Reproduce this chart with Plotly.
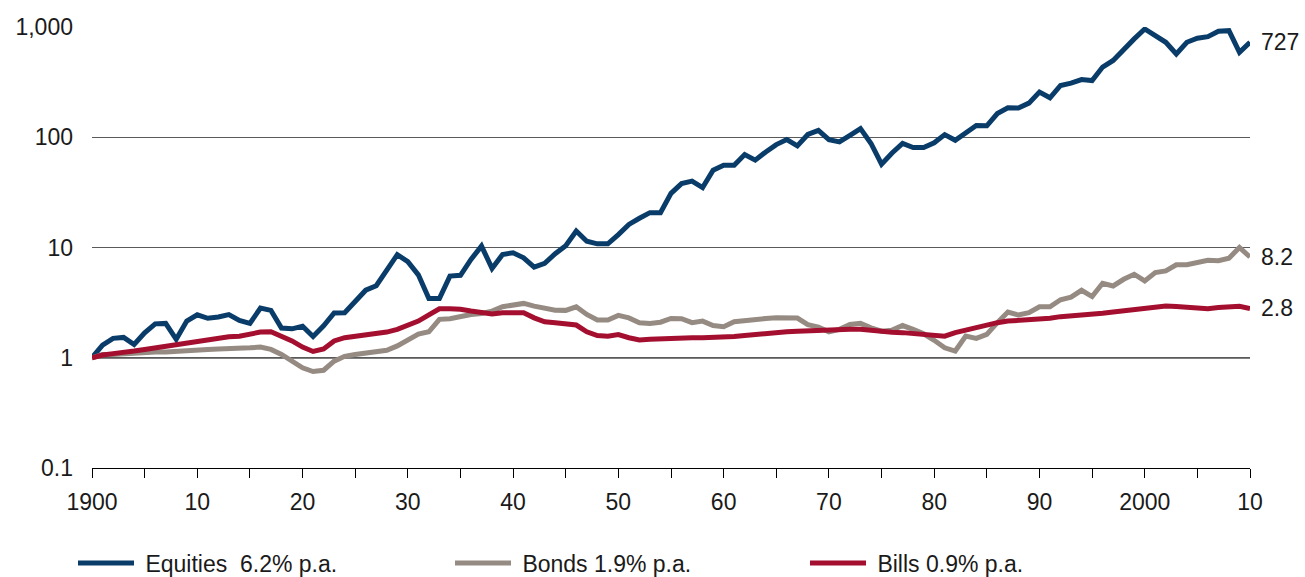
import math
import plotly.graph_objects as go

years = list(range(1900, 2011))

equities = [
    1.0, 1.3, 1.5, 1.53, 1.32, 1.68, 2.03, 2.05, 1.47, 2.15,
    2.45, 2.28, 2.34, 2.46, 2.18, 2.05, 2.82, 2.69, 1.86, 1.83,
    1.93, 1.56, 1.95, 2.55, 2.56, 3.3, 4.1, 4.5, 6.1, 8.6,
    7.45, 5.65, 3.45, 3.45, 5.5, 5.6, 7.8, 10.3, 6.46, 8.65,
    8.96, 8.07, 6.64, 7.17, 8.78, 10.4, 14.1, 11.4, 10.8, 10.8,
    13.1, 16.2, 18.4, 20.7, 20.7, 31, 38, 40, 35, 50.3,
    55.8, 55.8, 69.7, 62, 73.6, 85.8, 95.2, 83.6, 106, 115.6,
    95, 90.8, 104, 119.7, 87.8, 57, 72, 87.8, 80.7, 80.7,
    89, 105.7, 94, 109, 128, 127, 164, 185, 184, 204,
    257, 228, 295, 310, 334, 327, 433, 497, 632, 780,
    959, 835, 727, 570, 727, 791, 818, 914, 926, 590,
    727,
]

bonds = [
    1.0, 1.07, 1.07, 1.09, 1.1, 1.11, 1.13, 1.13, 1.15, 1.17,
    1.19, 1.19, 1.2, 1.2, 1.21, 1.23, 1.25, 1.19, 1.07, 0.93,
    0.81, 0.75, 0.77, 0.93, 1.03, 1.07, 1.11, 1.13, 1.17, 1.28,
    1.46, 1.64, 1.72, 2.23, 2.26, 2.39, 2.47, 2.52, 2.65, 2.9,
    2.98, 3.11, 2.94, 2.78, 2.7, 2.69, 2.9, 2.47, 2.2, 2.2,
    2.42, 2.3, 2.08, 2.05, 2.1, 2.27, 2.26, 2.08, 2.15, 1.96,
    1.91, 2.12, 2.17, 2.27, 2.27, 2.3, 2.29, 2.29, 2.0, 1.9,
    1.72, 1.81, 2.0, 2.05, 1.87, 1.74, 1.78, 1.96, 1.81, 1.65,
    1.44, 1.23, 1.15, 1.57, 1.5, 1.63, 2.08, 2.6, 2.44, 2.56,
    2.9, 2.9, 3.36, 3.55, 4.09, 3.59, 4.74, 4.48, 5.15, 5.72,
    4.98, 5.93, 6.13, 6.96, 6.99, 7.3, 7.67, 7.6, 8.0, 10.0,
    8.2,
]

bills = [
    1.0, 1.06, 1.09, 1.11, 1.15, 1.19, 1.23, 1.28, 1.3, 1.37,
    1.42, 1.47, 1.5, 1.55, 1.57, 1.63, 1.71, 1.72, 1.57, 1.42,
    1.25, 1.14, 1.2, 1.42, 1.52, 1.57, 1.63, 1.65, 1.71, 1.81,
    1.95, 2.15, 2.45, 2.78, 2.78, 2.75, 2.65, 2.6, 2.5, 2.56,
    2.56, 2.56, 2.3, 2.12, 2.08, 2.03, 1.98, 1.72, 1.59, 1.57,
    1.62, 1.52, 1.45, 1.47, 1.49, 1.51, 1.52, 1.52, 1.52, 1.52,
    1.54, 1.56, 1.59, 1.63, 1.66, 1.7, 1.72, 1.74, 1.76, 1.77,
    1.78, 1.79, 1.81, 1.81, 1.76, 1.71, 1.7, 1.69, 1.66, 1.63,
    1.58, 1.57, 1.69, 1.79, 1.88, 1.98, 2.08, 2.15, 2.18, 2.2,
    2.25, 2.28, 2.36, 2.39, 2.44, 2.47, 2.53, 2.6, 2.67, 2.75,
    2.79, 2.87, 2.95, 2.91, 2.89, 2.81, 2.79, 2.85, 2.89, 2.93,
    2.8,
]

series_names = ["Equities  6.2% p.a.", "Bonds 1.9% p.a.", "Bills 0.9% p.a."]
series_values = [equities, bonds, bills]
series_colors = ["#0A3C69", "#968B82", "#A40F30"]
end_labels = ["727", "8.2", "2.8"]
legend_ids = ["legend", "legend2", "legend3"]
legend_x_px = [78, 455, 810]   # left edge of each legend swatch (px)

y_tickvals = [0.1, 1, 10, 100, 1000]
y_ticktext = ["0.1", "1", "10", "100", "1,000"]

x_tickvals = list(range(1900, 2011, 5))
x_ticktext = []
for v in x_tickvals:
    if v % 10 != 0:
        x_ticktext.append("")
    elif v in (1900, 2000):
        x_ticktext.append(str(v))
    else:
        x_ticktext.append(f"{v % 100:02d}")

FONT = "Liberation Sans, Arial, Helvetica, sans-serif"
TXT = "#1a1a1a"
FS = 23

ML, MR, MT, MB = 92, 55, 27, 109
W, H = 1305, 577
PW, PH = W - ML - MR, H - MT - MB

fig = go.Figure()

# reference line at 1
fig.add_shape(type="line", xref="paper", yref="y", x0=0, x1=1, y0=1, y1=1,
              line=dict(color="#000000", width=1.3), layer="below")

for name, vals, col, lg in zip(series_names, series_values, series_colors, legend_ids):
    fig.add_trace(go.Scatter(x=years, y=vals, mode="lines", name=" " + name,
                             legend=lg, line=dict(color=col, width=5)))

for vals, lab in zip(series_values, end_labels):
    fig.add_annotation(x=years[-1], y=math.log10(vals[-1]), yref="y", xref="x",
                       text=lab, showarrow=False, xanchor="left", yanchor="middle",
                       xshift=9, font=dict(family=FONT, size=FS, color=TXT))

legend_y = (MT + PH - 563) / PH  # vertical centre of the legend row (px 563)
legend_common = dict(orientation="h", yanchor="middle", y=legend_y, xanchor="left",
                     font=dict(family=FONT, size=FS, color=TXT), itemwidth=56,
                     bgcolor="rgba(0,0,0,0)")
legends = {}
for lg, px in zip(legend_ids, legend_x_px):
    legends[lg] = dict(legend_common, x=(px - 5 - ML) / PW)

fig.update_layout(
    width=W, height=H,
    margin=dict(l=ML, r=MR, t=MT, b=MB, autoexpand=False),
    paper_bgcolor="white", plot_bgcolor="white",
    font=dict(family=FONT, size=FS, color=TXT),
    showlegend=True,
    xaxis=dict(range=[1900, 2010], tickvals=x_tickvals, ticktext=x_ticktext,
               showgrid=False, zeroline=False, showline=True, linecolor="#000000",
               linewidth=1.3, ticks="outside", ticklen=9, tickcolor="#000000",
               tickwidth=1, tickfont=dict(size=FS, color=TXT), ticklabelstandoff=4),
    yaxis=dict(type="log", range=[-1, 3], tickvals=y_tickvals, ticktext=y_ticktext,
               showgrid=True, gridcolor="#5a5a5a", gridwidth=1, zeroline=False,
               showline=False, ticks="", tickfont=dict(size=FS, color=TXT),
               ticklabelstandoff=18),
    **legends,
)

fig.write_html("out.html")
